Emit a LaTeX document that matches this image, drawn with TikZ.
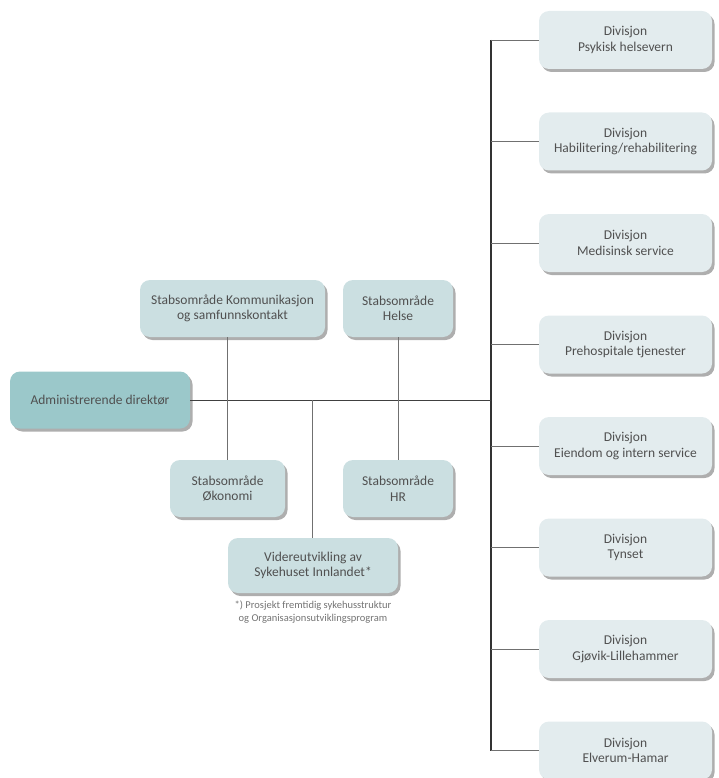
\documentclass[tikz,border=0pt]{standalone}
\usepackage{fontspec}
\setmainfont{Carlito}
\usetikzlibrary{shadows,positioning}
\definecolor{divfill}{HTML}{E3ECEE}
\definecolor{stabfill}{HTML}{CBDFE1}
\definecolor{adminfill}{HTML}{9BC8CA}
\definecolor{txt}{HTML}{505050}
\definecolor{ln}{HTML}{707070}
\tikzset{
  box/.style={rounded corners=10pt, minimum height=58pt, align=center,
    font=\fontsize{13.5}{15.5}\selectfont, text=txt, inner sep=2pt,
    drop shadow={shadow xshift=2.5pt, shadow yshift=-3pt, opacity=0.45, fill=black!70}},
  divbox/.style={box, fill=divfill, minimum width=173pt},
  stabbox/.style={box, fill=stabfill, minimum height=57pt},
  adminbox/.style={box, fill=adminfill, minimum width=180pt, minimum height=57pt},
  thinline/.style={draw=ln, line width=0.6pt},
  trunkline/.style={draw=black!80, line width=1.3pt},
  mainline/.style={draw=black!75, line width=1pt},
}
\begin{document}
\begin{tikzpicture}[x=1pt,y=-1pt]
\useasboundingbox (0,0) rectangle (718,778);
% coordinates
\coordinate (tTop) at (491,40);
\coordinate (tBot) at (491,750.5);
\coordinate (jK) at (227,400);
\coordinate (jV) at (312,400);
\coordinate (jH) at (398,400);
\coordinate (jT) at (491,400);
\foreach \i/\y in {1/40,2/141.5,3/243,4/344.5,5/446,6/547.5,7/649,8/750.5}{
  \coordinate (b\i) at (491,\y);
}
% lines first
\draw[trunkline] (tTop) -- (tBot);
% nodes
\node[adminbox] (adm) at (100,400) {Administrerende direktør};
\node[stabbox, minimum width=185pt] (kom) at (232.5,308.5) {Stabsområde Kommunikasjon\\og samfunnskontakt};
\node[stabbox, minimum width=110pt] (hel) at (398,308.5) {Stabsområde\\Helse};
\node[stabbox, minimum width=115pt] (oko) at (227.5,488.5) {Stabsområde\\Økonomi};
\node[stabbox, minimum width=110pt] (hr) at (398,488.5) {Stabsområde\\HR};
\node[stabbox, minimum width=170pt, minimum height=55pt] (vid) at (313,565.5) {Videreutvikling av\\Sykehuset Innlandet*};
\node[font=\fontsize{10.5}{12.5}\selectfont, text=black!55, align=center] (note) at (313,612) {*) Prosjekt fremtidig sykehusstruktur\\og Organisasjonsutviklingsprogram};
\node[divbox] (d1) at (625.5,40) {Divisjon\\Psykisk helsevern};
\node[divbox] (d2) at (625.5,141.5) {Divisjon\\Habilitering/rehabilitering};
\node[divbox] (d3) at (625.5,243) {Divisjon\\Medisinsk service};
\node[divbox] (d4) at (625.5,344.5) {Divisjon\\Prehospitale tjenester};
\node[divbox] (d5) at (625.5,446) {Divisjon\\Eiendom og intern service};
\node[divbox] (d6) at (625.5,547.5) {Divisjon\\Tynset};
\node[divbox] (d7) at (625.5,649) {Divisjon\\Gjøvik-Lillehammer};
\node[divbox] (d8) at (625.5,750.5) {Divisjon\\Elverum-Hamar};
% connectors
\draw[mainline] (adm.east) -- (jT);
\draw[thinline] (kom.south -| jK) -- (oko.north -| jK);
\draw[thinline] (hel.south) -- (hr.north);
\draw[thinline] (jV) -- (vid.north -| jV);
\foreach \i in {1,...,8}{
  \draw[thinline] (b\i) -- (d\i.west);
}
\end{tikzpicture}
\end{document}
